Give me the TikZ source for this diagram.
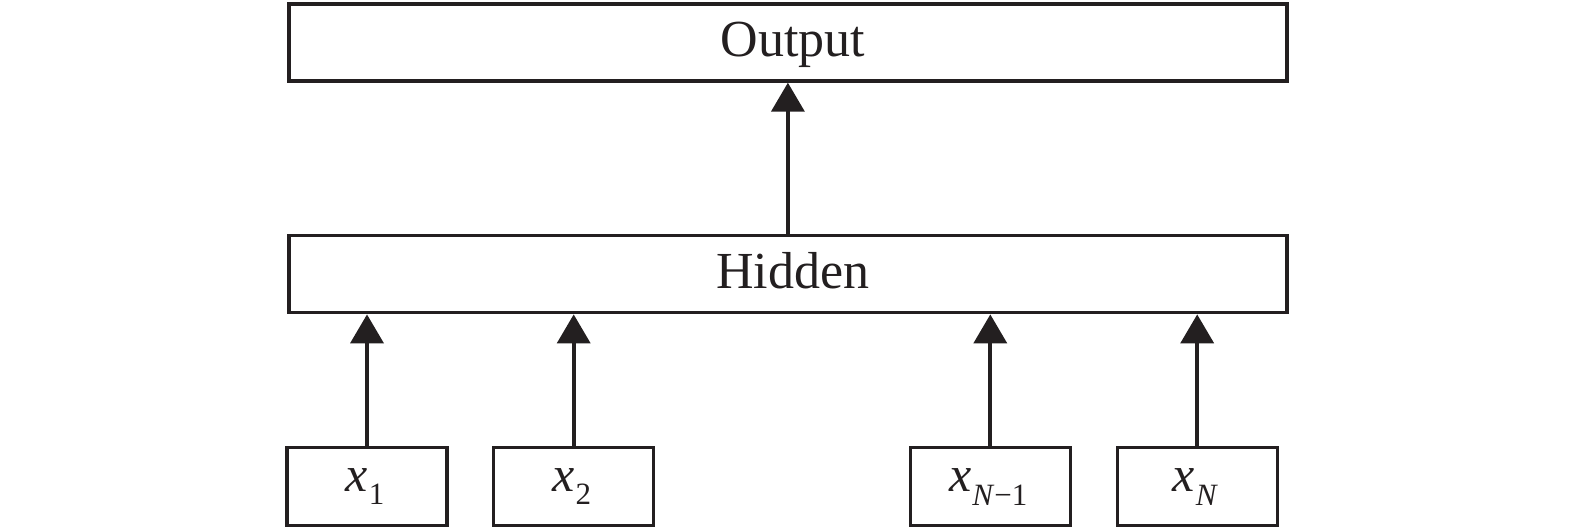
\documentclass[tikz,border=0pt]{standalone}
\usepackage{fontspec}
\setmainfont{Liberation Serif}
\usetikzlibrary{arrows.meta}
\definecolor{ink}{RGB}{35,31,32}
\newcommand{\myvar}[1]{{\fontsize{25pt}{25pt}\selectfont\itshape x}\kern0.5pt\raisebox{-6.6pt}{\fontsize{15.5pt}{15.5pt}\selectfont #1}\kern2pt}
\begin{document}
\begin{tikzpicture}[x=0.5pt,y=-0.5pt,
  layer/.style={draw=ink, line width=1.7pt, minimum width=498.9pt, minimum height=38.5pt, inner sep=0pt, text=ink, font=\fontsize{26pt}{26pt}\selectfont, text height=18pt, text depth=3.8pt},
  inbox/.style={draw=ink, line width=1.7pt, minimum width=80pt, minimum height=39pt, inner sep=0pt, text=ink, text height=12pt, text depth=6.8pt},
  link/.style={draw=ink, line width=1.9pt, -{Triangle[length=14.5pt,width=16.5pt]}}]
\useasboundingbox (0,0) rectangle (1575,530);
\node[layer] (out) at (787.9,42.5) {\kern5pt Output};
\node[layer] (hid) at (787.9,274.2) {\kern5pt Hidden};
\node[inbox] (x1) at (367,486.5) {\myvar{1}};
\node[inbox] (x2) at (573.7,486.5) {\myvar{2}};
\node[inbox] (xn1) at (990.3,486.7) {\myvar{\textit{N}−1}};
\node[inbox] (xn) at (1197.2,486.7) {\myvar{\textit{N}}};
\draw[link] (hid.north) -- (out.south);
\draw[link] (x1.north) -- (x1.north |- hid.south);
\draw[link] (x2.north) -- (x2.north |- hid.south);
\draw[link] (xn1.north) -- (xn1.north |- hid.south);
\draw[link] (xn.north) -- (xn.north |- hid.south);
\end{tikzpicture}
\end{document}
